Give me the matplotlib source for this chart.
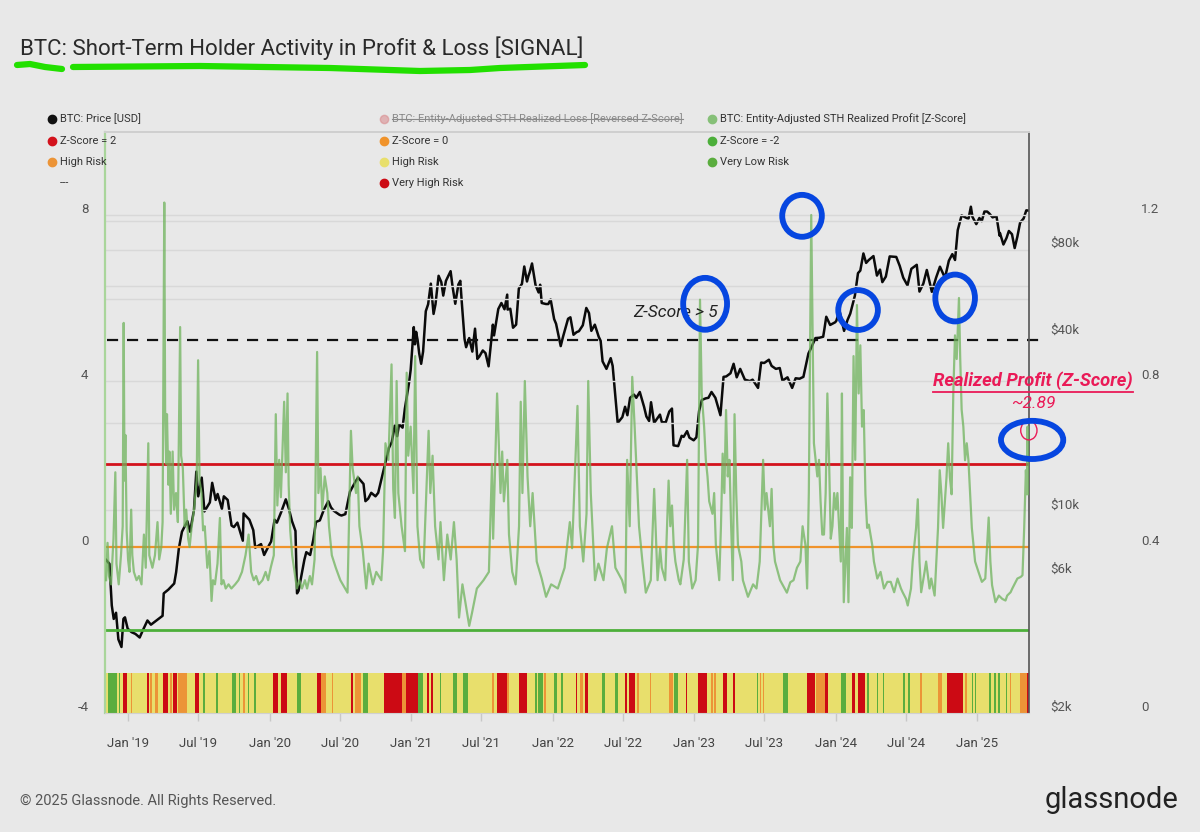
import matplotlib

matplotlib.use("Agg")

import matplotlib.pyplot as plt
from matplotlib.lines import Line2D
from matplotlib.patches import Ellipse
import numpy as np
import pandas as pd

BG = "#e8e8e8"
plt.rcParams["font.family"] = ["Roboto", "DejaVu Sans"]
plt.rcParams["axes.unicode_minus"] = False

FIG_W, FIG_H = 1200, 832

# BTC price (USD), log scale
PRICE_DATES = [
    "2018-11-05", "2018-11-14", "2018-11-20", "2018-11-25", "2018-12-01", "2018-12-07", "2018-12-15", "2018-12-20",
    "2018-12-24", "2018-12-31", "2019-01-10", "2019-01-20", "2019-01-31", "2019-02-08", "2019-02-20", "2019-03-01",
    "2019-03-15", "2019-03-31", "2019-04-03", "2019-04-15", "2019-04-30", "2019-05-05", "2019-05-12", "2019-05-20",
    "2019-05-31", "2019-06-03", "2019-06-10", "2019-06-20", "2019-06-26", "2019-07-01", "2019-07-10", "2019-07-17",
    "2019-07-31", "2019-08-06", "2019-08-15", "2019-08-20", "2019-08-31", "2019-09-05", "2019-09-15", "2019-09-25",
    "2019-10-01", "2019-10-10", "2019-10-24", "2019-10-26", "2019-11-10", "2019-11-20", "2019-11-25", "2019-12-10",
    "2019-12-18", "2019-12-31", "2020-01-05", "2020-01-14", "2020-01-20", "2020-01-31", "2020-02-12", "2020-02-20",
    "2020-02-28", "2020-03-08", "2020-03-12", "2020-03-16", "2020-03-31", "2020-04-05", "2020-04-15", "2020-04-23",
    "2020-04-30", "2020-05-10", "2020-05-20", "2020-06-01", "2020-06-08", "2020-06-15", "2020-06-30", "2020-07-05",
    "2020-07-15", "2020-07-27", "2020-08-10", "2020-08-17", "2020-08-31", "2020-09-05", "2020-09-12", "2020-09-20",
    "2020-10-01", "2020-10-08", "2020-10-21", "2020-11-05", "2020-11-12", "2020-11-20", "2020-11-26", "2020-12-01",
    "2020-12-10", "2020-12-16", "2020-12-27", "2020-12-31", "2021-01-03", "2021-01-08", "2021-01-11", "2021-01-14",
    "2021-01-18", "2021-01-22", "2021-01-27", "2021-02-01", "2021-02-08", "2021-02-14", "2021-02-21", "2021-02-28",
    "2021-03-05", "2021-03-13", "2021-03-20", "2021-03-25", "2021-04-01", "2021-04-13", "2021-04-18", "2021-04-25",
    "2021-05-03", "2021-05-08", "2021-05-12", "2021-05-19", "2021-05-23", "2021-05-31", "2021-06-08", "2021-06-15",
    "2021-06-21", "2021-06-26", "2021-07-05", "2021-07-12", "2021-07-20", "2021-07-31", "2021-08-03", "2021-08-14",
    "2021-08-22", "2021-08-30", "2021-09-06", "2021-09-07", "2021-09-14", "2021-09-21", "2021-09-29", "2021-10-06",
    "2021-10-14", "2021-10-20", "2021-10-27", "2021-10-31", "2021-11-03", "2021-11-09", "2021-11-18", "2021-11-26",
    "2021-11-30", "2021-12-04", "2021-12-15", "2021-12-21", "2021-12-27", "2022-01-05", "2022-01-10", "2022-01-22",
    "2022-01-28", "2022-02-10", "2022-02-16", "2022-02-24", "2022-03-04", "2022-03-10", "2022-03-20", "2022-03-29",
    "2022-04-05", "2022-04-11", "2022-04-20", "2022-04-30", "2022-05-05", "2022-05-10", "2022-05-20", "2022-05-31",
    "2022-06-05", "2022-06-13", "2022-06-18", "2022-06-30", "2022-07-07", "2022-07-13", "2022-07-20", "2022-07-30",
    "2022-08-05", "2022-08-14", "2022-08-25", "2022-08-31", "2022-09-07", "2022-09-12", "2022-09-20", "2022-10-05",
    "2022-10-10", "2022-10-20", "2022-10-29", "2022-11-05", "2022-11-09", "2022-11-21", "2022-11-30", "2022-12-05",
    "2022-12-14", "2022-12-20", "2022-12-31", "2023-01-07", "2023-01-14", "2023-01-21", "2023-01-31", "2023-02-07",
    "2023-02-15", "2023-02-25", "2023-03-10", "2023-03-18", "2023-03-25", "2023-04-05", "2023-04-13", "2023-04-21",
    "2023-04-30", "2023-05-12", "2023-05-25", "2023-06-01", "2023-06-15", "2023-06-23", "2023-07-01", "2023-07-13",
    "2023-07-20", "2023-07-31", "2023-08-10", "2023-08-17", "2023-08-30", "2023-09-11", "2023-09-20", "2023-09-30",
    "2023-10-10", "2023-10-23", "2023-10-30", "2023-11-10", "2023-11-20", "2023-11-30", "2023-12-03", "2023-12-08",
    "2023-12-18", "2023-12-31", "2024-01-03", "2024-01-11", "2024-01-23", "2024-02-01", "2024-02-08", "2024-02-20",
    "2024-02-28", "2024-03-05", "2024-03-13", "2024-03-20", "2024-03-27", "2024-04-08", "2024-04-17", "2024-04-25",
    "2024-05-01", "2024-05-10", "2024-05-20", "2024-06-06", "2024-06-15", "2024-06-24", "2024-07-05", "2024-07-15",
    "2024-07-29", "2024-08-05", "2024-08-15", "2024-08-24", "2024-09-06", "2024-09-17", "2024-09-27", "2024-10-10",
    "2024-10-20", "2024-10-29", "2024-11-05", "2024-11-12", "2024-11-22", "2024-12-05", "2024-12-10", "2024-12-16",
    "2024-12-20", "2024-12-30", "2025-01-07", "2025-01-13", "2025-01-20", "2025-01-27", "2025-02-01", "2025-02-10",
    "2025-02-20", "2025-02-28", "2025-03-01", "2025-03-10", "2025-03-18", "2025-03-24", "2025-04-01", "2025-04-08",
    "2025-04-15", "2025-04-22", "2025-05-01", "2025-05-08", "2025-05-13",
]
PRICE_USD = [
    6400, 6200, 4450, 4000, 4200, 3400, 3200, 4000,
    4050, 3700, 3600, 3550, 3450, 3650, 3950, 3820,
    3950, 4100, 4900, 5050, 5300, 5800, 7000, 8000,
    8550, 8700, 8000, 9500, 12900, 10600, 12300, 9400,
    10100, 11800, 10300, 10800, 9600, 10600, 10300, 8400,
    8300, 8600, 7450, 9250, 8800, 8100, 7050, 7250,
    6650, 7200, 7400, 8800, 8600, 9350, 10350, 9600,
    8700, 8050, 4900, 5000, 6400, 6800, 6650, 7500,
    8650, 8750, 9500, 10200, 9700, 9450, 9150, 9100,
    9200, 11000, 11900, 12300, 11700, 10200, 10400, 10900,
    10600, 10900, 12900, 15600, 16300, 18600, 17100, 18800,
    18300, 21300, 26300, 29000, 32800, 40700, 35500, 39200,
    36600, 33000, 30400, 33500, 46200, 48800, 57500, 45200,
    48800, 61200, 58200, 52300, 58800, 63500, 56200, 49000,
    57100, 58800, 49200, 37000, 34700, 37300, 33500, 40200,
    31600, 32200, 33800, 33100, 29800, 41500, 38100, 47000,
    49300, 46900, 52700, 46800, 47100, 40500, 41500, 55300,
    57400, 65900, 58500, 61300, 62900, 67500, 56900, 53600,
    57000, 49300, 48900, 48900, 50700, 43400, 41800, 35000,
    37700, 43500, 44000, 38300, 39100, 39400, 41300, 47400,
    45500, 39500, 41500, 37700, 36500, 31000, 29200, 31800,
    29900, 22500, 19000, 19900, 21600, 20200, 23200, 23800,
    23200, 24300, 21600, 20000, 19300, 22400, 19000, 20300,
    19100, 19100, 20800, 21300, 15900, 15800, 17150, 17000,
    17800, 16900, 16550, 16950, 20900, 22800, 23100, 23200,
    24300, 23200, 20200, 27400, 27500, 28200, 30400, 27300,
    29200, 26800, 26500, 26800, 25100, 30700, 30600, 31400,
    29900, 29200, 29400, 26600, 27300, 25100, 27100, 27000,
    27400, 33000, 34500, 37300, 37400, 37700, 39900, 44200,
    41400, 42300, 42800, 46400, 39500, 43100, 45300, 52300,
    62500, 63800, 73100, 67800, 69400, 71600, 61300, 64300,
    58200, 60800, 71400, 71100, 66200, 60300, 56700, 64700,
    66800, 54000, 57500, 64100, 53900, 60300, 65800, 60200,
    69000, 72700, 69400, 88000, 98900, 96900, 96600, 106000,
    97800, 92300, 96900, 94500, 102000, 102000, 100600, 97400,
    98300, 84300, 86000, 78500, 82700, 87400, 85200, 76300,
    83600, 93400, 96500, 103000, 102800,
]

# Entity-adjusted STH realized profit, Z-score (decimal year, value)
PROFIT_YEAR = [
    2018.845, 2018.855, 2018.865, 2018.880, 2018.897, 2018.910, 2018.918, 2018.934, 2018.950, 2018.962,
    2018.969, 2018.975, 2018.981, 2018.990, 2019.000, 2019.010, 2019.022, 2019.030, 2019.041, 2019.060,
    2019.077, 2019.095, 2019.112, 2019.125, 2019.143, 2019.150, 2019.172, 2019.190, 2019.208, 2019.220,
    2019.235, 2019.244, 2019.256, 2019.262, 2019.270, 2019.275, 2019.285, 2019.292, 2019.302, 2019.315,
    2019.325, 2019.339, 2019.352, 2019.368, 2019.375, 2019.387, 2019.400, 2019.411, 2019.425, 2019.435,
    2019.450, 2019.466, 2019.485, 2019.495, 2019.505, 2019.519, 2019.530, 2019.542, 2019.560, 2019.575,
    2019.590, 2019.600, 2019.614, 2019.632, 2019.649, 2019.660, 2019.674, 2019.690, 2019.710, 2019.730,
    2019.757, 2019.780, 2019.805, 2019.830, 2019.852, 2019.870, 2019.888, 2019.905, 2019.924, 2019.950,
    2019.972, 2019.990, 2020.008, 2020.030, 2020.044, 2020.055, 2020.068, 2020.080, 2020.103, 2020.115,
    2020.127, 2020.135, 2020.146, 2020.160, 2020.193, 2020.210, 2020.229, 2020.250, 2020.265, 2020.285,
    2020.300, 2020.318, 2020.336, 2020.345, 2020.360, 2020.372, 2020.390, 2020.408, 2020.420, 2020.440,
    2020.468, 2020.500, 2020.551, 2020.575, 2020.587, 2020.611, 2020.623, 2020.635, 2020.659, 2020.683,
    2020.700, 2020.730, 2020.754, 2020.790, 2020.802, 2020.819, 2020.840, 2020.862, 2020.874, 2020.886,
    2020.898, 2020.910, 2020.933, 2020.957, 2020.969, 2020.980, 2020.997, 2021.017, 2021.029, 2021.045,
    2021.064, 2021.088, 2021.124, 2021.136, 2021.152, 2021.170, 2021.194, 2021.208, 2021.232, 2021.256,
    2021.280, 2021.303, 2021.322, 2021.339, 2021.363, 2021.411, 2021.430, 2021.465, 2021.512, 2021.550,
    2021.572, 2021.580, 2021.608, 2021.620, 2021.632, 2021.644, 2021.656, 2021.680, 2021.692, 2021.715,
    2021.739, 2021.763, 2021.775, 2021.787, 2021.804, 2021.823, 2021.842, 2021.859, 2021.888, 2021.923,
    2021.954, 2021.990, 2022.037, 2022.085, 2022.122, 2022.138, 2022.176, 2022.193, 2022.217, 2022.240,
    2022.252, 2022.270, 2022.300, 2022.324, 2022.360, 2022.384, 2022.420, 2022.444, 2022.491, 2022.515,
    2022.527, 2022.545, 2022.563, 2022.580, 2022.611, 2022.635, 2022.659, 2022.694, 2022.718, 2022.742,
    2022.760, 2022.772, 2022.796, 2022.820, 2022.832, 2022.844, 2022.856, 2022.868, 2022.892, 2022.903,
    2022.927, 2022.951, 2022.963, 2022.987, 2023.011, 2023.028, 2023.042, 2023.054, 2023.071, 2023.083,
    2023.095, 2023.107, 2023.130, 2023.142, 2023.154, 2023.178, 2023.190, 2023.202, 2023.214, 2023.226,
    2023.238, 2023.250, 2023.262, 2023.274, 2023.286, 2023.298, 2023.310, 2023.334, 2023.345, 2023.381,
    2023.417, 2023.441, 2023.464, 2023.476, 2023.488, 2023.500, 2023.512, 2023.536, 2023.548, 2023.560,
    2023.572, 2023.608, 2023.656, 2023.680, 2023.703, 2023.727, 2023.751, 2023.767, 2023.787, 2023.799,
    2023.811, 2023.828, 2023.837, 2023.847, 2023.859, 2023.871, 2023.883, 2023.894, 2023.906, 2023.918,
    2023.930, 2023.942, 2023.954, 2023.966, 2023.978, 2023.990, 2024.002, 2024.013, 2024.025, 2024.037,
    2024.045, 2024.052, 2024.058, 2024.080, 2024.091, 2024.103, 2024.115, 2024.127, 2024.139, 2024.151,
    2024.163, 2024.175, 2024.187, 2024.199, 2024.211, 2024.223, 2024.235, 2024.259, 2024.271, 2024.295,
    2024.318, 2024.342, 2024.366, 2024.390, 2024.414, 2024.438, 2024.462, 2024.474, 2024.498, 2024.510,
    2024.533, 2024.545, 2024.557, 2024.569, 2024.581, 2024.593, 2024.605, 2024.629, 2024.640, 2024.664,
    2024.676, 2024.700, 2024.724, 2024.736, 2024.748, 2024.760, 2024.784, 2024.796, 2024.808, 2024.820,
    2024.832, 2024.844, 2024.856, 2024.872, 2024.881, 2024.891, 2024.903, 2024.915, 2024.927, 2024.939,
    2024.951, 2024.963, 2024.986, 2025.010, 2025.034, 2025.058, 2025.082, 2025.094, 2025.106, 2025.130,
    2025.154, 2025.178, 2025.201, 2025.213, 2025.237, 2025.249, 2025.273, 2025.285, 2025.309, 2025.321,
    2025.333, 2025.345, 2025.352, 2025.357, 2025.361, 2025.364, 2025.366,
]
PROFIT_Z = [
    -0.8, 0.1, -0.7, -0.9, 0.2, 1.8, -0.4, -0.9, -0.2, 0.5,
    5.4, 1.6, 2.7, 0.4, -0.3, -0.6, 0.9, -0.2, -0.6, -0.8,
    -0.7, -0.9, 0.3, -0.5, 2.5, -0.2, -0.5, -0.2, 0.6, -0.3,
    0.0, 0.6, 8.3, 3.3, 2.0, 3.2, 1.5, 2.3, 0.8, 2.3,
    0.9, 1.3, 0.6, 5.3, 2.2, 1.9, 0.5, 0.9, 0.2, 0.0,
    0.5, 0.9, 1.6, 4.5, 1.6, 1.3, 0.4, 0.5, -0.5, -0.1,
    -1.3, -0.8, -0.9, -0.4, 0.7, -0.9, -0.8, -1.0, -0.9, -1.0,
    -0.9, -0.8, -0.6, -0.2, 0.3, -0.6, -0.8, -0.7, -0.9, -0.8,
    -0.6, -0.8, -0.5, -0.2, 3.2, 1.0, 2.1, 1.2, 3.5, 1.8,
    3.7, 1.5, 0.4, -0.2, -1.0, -0.8, -1.0, -0.8, -1.0, -0.7,
    -0.9, -0.3, 4.7, 1.3, 1.9, 0.9, 1.7, 1.3, 0.5, -0.2,
    -0.5, -0.8, -1.1, 2.8, 1.9, 1.3, 1.7, 0.5, -0.1, -1.0,
    -0.4, -0.9, -0.6, -0.8, -0.1, 2.5, 2.1, 4.4, 1.4, 0.7,
    4.0, 1.3, 0.5, -0.1, 4.2, 2.2, 2.9, 1.3, 4.6, 0.5,
    -0.3, -0.5, 2.8, 1.3, 2.2, 0.5, -0.3, 0.6, -0.8, 0.3,
    -0.3, 0.6, -0.3, -1.7, -0.9, -1.9, -1.6, -1.0, -0.8, -0.6,
    2.0, 0.2, 3.7, 2.5, 1.3, 2.3, 1.1, 2.1, 0.3, -0.6,
    -0.9, 0.5, 3.5, 1.3, 4.0, 1.7, 0.5, 1.3, -0.35, -0.76,
    -1.2, -0.9, -1.0, -0.5, 0.6, -0.03, 3.4, 0.5, -0.35, 0.8,
    4.0, 1.3, -0.8, -0.4, -0.8, -0.03, 0.5, -0.5, -0.8, -1.1,
    2.1, 0.5, 4.1, 2.9, 0.5, -0.35, -1.1, -0.8, 1.4, -0.8,
    -0.03, -0.5, -0.8, 1.6, 0.5, 1.0, 0.05, -0.35, -0.8, -0.9,
    -0.3, 2.1, -0.35, -1.0, -0.8, 0.05, 5.96, 3.7, 2.9, 2.1,
    1.7, 1.1, 0.8, 1.3, 0.05, -0.8, 0.5, 2.25, 1.3, 3.3,
    1.7, 2.1, 0.5, -0.8, 3.2, 1.3, 0.05, -0.35, -0.8, -1.2,
    -0.9, -1.0, -0.35, 0.9, 2.1, 0.9, 1.3, 0.5, 1.4, 0.05,
    -0.35, -0.8, -1.1, -0.85, -0.8, -0.5, -0.35, 0.5, 0.05, -1.0,
    1.3, 8.0, 5.3, 2.5, 2.1, 1.7, 2.1, 1.1, 0.3, 0.3,
    1.3, 3.7, 2.1, 0.2, 0.5, 1.3, 0.9, 1.3, 0.5, -0.35,
    3.7, 0.46, -1.33, 0.46, -1.33, 1.68, 0.46, 4.6, 2.1, 5.83,
    3.7, 4.86, 2.9, 3.3, 1.27, 0.46, 0.54, 0.05, -0.35, -0.76,
    -0.6, -1.0, -0.84, -0.84, -1.09, -0.76, -1.0, -1.09, -1.25, -1.41,
    -1.0, -0.35, 0.05, 0.46, 1.15, -0.35, -1.09, -0.6, -0.35, -1.0,
    -0.76, -1.17, 0.46, 1.85, 1.27, 0.46, 1.68, 2.5, 1.68, 1.27,
    3.7, 5.1, 4.53, 6.0, 4.53, 3.31, 2.9, 2.09, 2.5, 2.09,
    1.27, 0.46, -0.35, -0.6, -0.84, -0.76, 0.71, -0.35, -0.92, -1.33,
    -1.17, -1.25, -1.29, -1.17, -1.09, -1.0, -0.84, -0.76, -0.72, -0.68,
    0.46, 1.85, 1.27, 2.9, 1.27, 2.5, 2.89,
]

# risk signal band: stripes that are not "High Risk" (yellow)
RISK_START = [
    2018.861, 2018.934, 2018.967, 2019.021, 2019.132, 2019.155, 2019.191, 2019.250, 2019.297, 2019.316,
    2019.356, 2019.473, 2019.532, 2019.622, 2019.733, 2019.784, 2019.815, 2019.850, 2019.893, 2020.022,
    2020.079, 2020.192, 2020.333, 2020.362, 2020.439, 2020.576, 2020.604, 2020.663, 2020.812, 2020.934,
    2020.965, 2021.052, 2021.111, 2021.139, 2021.205, 2021.299, 2021.365, 2021.570, 2021.605, 2021.681,
    2021.766, 2021.876, 2021.900, 2021.942, 2022.013, 2022.060, 2022.166, 2022.194, 2022.230, 2022.347,
    2022.442, 2022.512, 2022.543, 2022.600, 2022.689, 2022.826, 2022.861, 2022.943, 2023.031, 2023.120,
    2023.144, 2023.203, 2023.273, 2023.443, 2023.466, 2023.485, 2023.631, 2023.796, 2023.862, 2023.926,
    2024.039, 2024.114, 2024.161, 2024.220, 2024.291, 2024.333, 2024.479, 2024.515, 2024.597, 2024.727,
    2024.786, 2024.915, 2024.962, 2024.986, 2025.087, 2025.122, 2025.151, 2025.205, 2025.232, 2025.304,
    2025.351,
]
RISK_END = [
    2018.920, 2018.943, 2018.991, 2019.031, 2019.146, 2019.167, 2019.214, 2019.285, 2019.313, 2019.349,
    2019.419, 2019.504, 2019.544, 2019.634, 2019.761, 2019.792, 2019.827, 2019.857, 2019.902, 2020.062,
    2020.126, 2020.223, 2020.362, 2020.399, 2020.446, 2020.592, 2020.644, 2020.694, 2020.934, 2020.965,
    2021.052, 2021.087, 2021.125, 2021.158, 2021.212, 2021.323, 2021.405, 2021.587, 2021.676, 2021.695,
    2021.818, 2021.888, 2021.935, 2021.954, 2022.029, 2022.072, 2022.176, 2022.213, 2022.253, 2022.371,
    2022.465, 2022.524, 2022.583, 2022.609, 2022.696, 2022.854, 2022.889, 2022.953, 2023.090, 2023.132,
    2023.155, 2023.231, 2023.292, 2023.455, 2023.473, 2023.495, 2023.667, 2023.855, 2023.926, 2023.949,
    2024.072, 2024.138, 2024.208, 2024.239, 2024.298, 2024.343, 2024.491, 2024.527, 2024.609, 2024.750,
    2024.903, 2024.927, 2024.969, 2024.993, 2025.097, 2025.132, 2025.163, 2025.214, 2025.242, 2025.351,
    2025.367,
]
RISK_LEVEL = [
    "low", "low", "vhigh", "mid", "vhigh", "mid", "mid", "vhigh", "mid", "vhigh",
    "mid", "vhigh", "low", "low", "low", "low", "mid", "low", "low", "vhigh",
    "vhigh", "low", "vhigh", "mid", "mid", "vhigh", "mid", "low", "vhigh", "mid",
    "vhigh", "low", "vhigh", "vhigh", "low", "low", "low", "mid", "vhigh", "mid",
    "vhigh", "low", "low", "mid", "low", "low", "vhigh", "mid", "vhigh", "low",
    "low", "vhigh", "vhigh", "mid", "mid", "mid", "low", "vhigh", "vhigh", "mid",
    "mid", "vhigh", "vhigh", "low", "mid", "mid", "low", "vhigh", "mid", "vhigh",
    "low", "vhigh", "vhigh", "low", "low", "low", "low", "low", "mid", "mid",
    "vhigh", "mid", "low", "low", "low", "low", "low", "low", "mid", "mid",
    "vhigh",
]

Z_LINES = [2, 0, -2]
Z_SIGNAL = 5
LAST_VALUE = 2.89

PRICE_TICKS = [2000, 6000, 10000, 40000, 80000]
LEFT_TICKS = [8, 4, 0, -4]
RISK_TICKS = [0, 0.4, 0.8, 1.2]

RISK_COLOURS = {"low": "#5aad3e", "high": "#e8df6c", "mid": "#ec9437", "vhigh": "#cc0a14"}
LINE_COLOURS = {2: "#d3121c", 0: "#f0932b", -2: "#4caf3a"}
PROFIT_COLOUR = "#6fb35c"
NOTE_RED = "#ea1a57"
MARKER_BLUE = "#0646e0"


def to_year(dates):
    d = pd.to_datetime(pd.Series(dates))
    days = np.where(d.dt.is_leap_year, 366, 365)
    return (d.dt.year + (d.dt.dayofyear - 1) / days).to_numpy()


def px(x, y):
    return x / FIG_W, 1 - y / FIG_H


def legend_item(fig, x, y, colour, label, struck=False):
    if colour:
        fig.add_artist(Line2D([x / FIG_W], [1 - y / FIG_H], marker="o", markersize=6,
                              color=colour, linestyle="none", alpha=0.55 if struck else 1))
    t = fig.text(*px(x + 8, y), label, fontsize=8.0, va="center", ha="left",
                 color="#8a8a8a" if struck else "#333333")
    return t


fig = plt.figure(figsize=(FIG_W / 100, FIG_H / 100), dpi=100, facecolor=BG)
left, right, top, bottom = 105, 1029, 132, 713
ax = fig.add_axes([left / FIG_W, 1 - bottom / FIG_H, (right - left) / FIG_W, (bottom - top) / FIG_H])
ax_p = ax.twinx()
ax.set_zorder(ax_p.get_zorder() + 1)
ax.patch.set_visible(False)
ax_p.patch.set_facecolor(BG)

x_lo, x_hi = 2018.837, 2025.367
ax.set_xlim(x_lo, x_hi)
ax.set_ylim(-4.0, 10.0)

# faint grid
for g in [8.0, 7.85, 7.15, 6.3, 5.98, 4.0, 3.0, 0.9]:
    ax.axhline(g, color="#d8d8d8", lw=1, zorder=0)

# price
assert len(PRICE_DATES) == len(PRICE_USD)
price_year = to_year(PRICE_DATES)
ax_p.set_yscale("log")
ax_p.set_ylim(1893, 192000)
ax_p.plot(price_year, PRICE_USD, color="#0a0a0a", lw=1.8, zorder=3)
ax_p.set_yticks(PRICE_TICKS)
ax_p.set_yticklabels([f"${v // 1000}k" for v in PRICE_TICKS])
ax_p.yaxis.set_minor_locator(matplotlib.ticker.NullLocator())
ax_p.tick_params(axis="y", length=0, pad=15, labelsize=9.5, labelcolor="#555555")
for s in ax_p.spines.values():
    s.set_visible(False)

# risk band
band_lo, band_h = -4.0, 0.96
ax.broken_barh([(PROFIT_YEAR[0], PROFIT_YEAR[-1] - PROFIT_YEAR[0])], (band_lo, band_h),
               facecolor=RISK_COLOURS["high"], edgecolor="none", zorder=1)
for level in ["mid", "low", "vhigh"]:
    segs = [(s, e - s) for s, e, lv in zip(RISK_START, RISK_END, RISK_LEVEL) if lv == level]
    ax.broken_barh(segs, (band_lo, band_h), facecolor=RISK_COLOURS[level], edgecolor="none", zorder=1)

# reference lines
for z in Z_LINES:
    ax.axhline(z, color=LINE_COLOURS[z], lw=2.0 if z != 0 else 1.6, zorder=2)
ax.plot([x_lo + 0.015, x_hi + 0.07], [Z_SIGNAL, Z_SIGNAL], color="#111111", lw=1.6,
        dashes=(5, 4), clip_on=False, zorder=2)

# realized profit z-score
ax.plot(PROFIT_YEAR, PROFIT_Z, color=PROFIT_COLOUR, lw=1.6, alpha=0.75, zorder=4)

# axes cosmetics
ax.set_yticks([])
ticks = pd.date_range("2019-01-01", "2025-01-01", freq="6MS")
ax.set_xticks(to_year(ticks))
ax.set_xticklabels([d.strftime("%b '%y") for d in ticks])
ax.tick_params(axis="x", length=6, width=1, color="#c8c8c8", pad=11, labelsize=9.5, labelcolor="#444444")
ax.spines["left"].set_color("#a9d59b")
ax.spines["left"].set_linewidth(1.6)
ax.spines["right"].set_color("#555555")
ax.spines["right"].set_linewidth(1.2)
ax.spines["top"].set_color("#cfcfcf")
ax.spines["top"].set_linewidth(1.4)
ax.spines["bottom"].set_color("#d0d0d0")

off = 0.17
sec_left = ax.secondary_yaxis("left", functions=(lambda z: z - off, lambda v: v + off))
sec_left.set_yticks(LEFT_TICKS)
sec_left.tick_params(length=0, pad=12, labelsize=9.5, labelcolor="#555555")
sec_left.spines["left"].set_visible(False)

sec_risk = ax.secondary_yaxis(1.115, functions=(lambda z: (z - off + 4) / 10, lambda r: r * 10 - 4 + off))
sec_risk.set_yticks(RISK_TICKS)
sec_risk.set_yticklabels(["0", "0.4", "0.8", "1.2"])
sec_risk.tick_params(length=0, pad=4, labelsize=9.5, labelcolor="#555555")
sec_risk.spines["right"].set_visible(False)

# annotations
ax.text(2022.866, 5.64, "Z-Score > 5", fontsize=12.5, style="italic", color="#222222",
        ha="center", va="center", zorder=6)
ax.text(2025.396, 4.0, "Realized Profit (Z-Score)", fontsize=13.2, style="italic",
        weight="bold", color=NOTE_RED, ha="center", va="center", zorder=6, clip_on=False)
ax.text(2025.40, 3.45, f"~{LAST_VALUE}", fontsize=12.5, style="italic", color=NOTE_RED,
        ha="center", va="center", zorder=6, clip_on=False)
ax.plot([2024.689, 2026.102], [3.74, 3.74], color=NOTE_RED, lw=1.3, clip_on=False, zorder=6)
ax.add_patch(Ellipse((PROFIT_YEAR[-1], PROFIT_Z[-1] - 0.08), 0.115, 0.46, fill=False,
                     edgecolor=NOTE_RED, lw=1.0, clip_on=False, zorder=7))

for cx, cy, w, h in [(2023.078, 5.86, 0.31, 1.25), (2023.763, 7.98, 0.28, 1.01),
                     (2024.159, 5.71, 0.28, 0.96), (2024.845, 6.0, 0.28, 1.13),
                     (2025.389, 2.58, 0.44, 0.92)]:
    ax.add_patch(Ellipse((cx, cy), w, h, fill=False, edgecolor=MARKER_BLUE, lw=4.2,
                         clip_on=False, zorder=8))

# title and underline strokes
fig.text(*px(20, 48), "BTC: Short-Term Holder Activity in Profit & Loss [SIGNAL]", fontsize=16,
         color="#2a2a2a", va="center", ha="left")
for xs, ys in [([17, 30, 45, 62], [65, 64, 67, 69]),
               ([73, 200, 330, 420, 470, 500, 585], [67, 66, 68, 71, 70, 68, 65])]:
    fig.add_artist(Line2D([x / FIG_W for x in xs], [1 - y / FIG_H for y in ys], color="#22e000",
                          lw=4.5, solid_capstyle="round", solid_joinstyle="round"))

# legend
cols = [52, 384, 712]
rows = [119, 141, 162, 183]
legend_item(fig, cols[0], rows[0], "#111111", "BTC: Price [USD]")
struck = legend_item(fig, cols[1], rows[0], "#d9878a", "BTC: Entity-Adjusted STH Realized Loss [Reversed Z-Score]", struck=True)
legend_item(fig, cols[2], rows[0], "#86c078", "BTC: Entity-Adjusted STH Realized Profit [Z-Score]")
legend_item(fig, cols[0], rows[1], LINE_COLOURS[2], "Z-Score = 2")
legend_item(fig, cols[1], rows[1], LINE_COLOURS[0], "Z-Score = 0")
legend_item(fig, cols[2], rows[1], LINE_COLOURS[-2], "Z-Score = -2")
legend_item(fig, cols[0], rows[2], RISK_COLOURS["mid"], "High Risk")
legend_item(fig, cols[1], rows[2], RISK_COLOURS["high"], "High Risk")
legend_item(fig, cols[2], rows[2], RISK_COLOURS["low"], "Very Low Risk")
legend_item(fig, cols[0], rows[3], None, "---")
legend_item(fig, cols[1], rows[3], RISK_COLOURS["vhigh"], "Very High Risk")

fig.canvas.draw()
bb = struck.get_window_extent()
yy = (bb.y0 + bb.y1) / 2 / FIG_H
fig.add_artist(Line2D([bb.x0 / FIG_W, bb.x1 / FIG_W], [yy, yy], color="#8a8a8a", lw=0.8))

# footer
fig.text(*px(20, 801), "\u00a9 2025 Glassnode. All Rights Reserved.", fontsize=10.5, color="#555555",
         va="center", ha="left")
fig.text(*px(1178, 800), "glassnode", fontsize=21, color="#222222", va="center", ha="right")

fig.savefig("out.png", dpi=100, facecolor=BG)
